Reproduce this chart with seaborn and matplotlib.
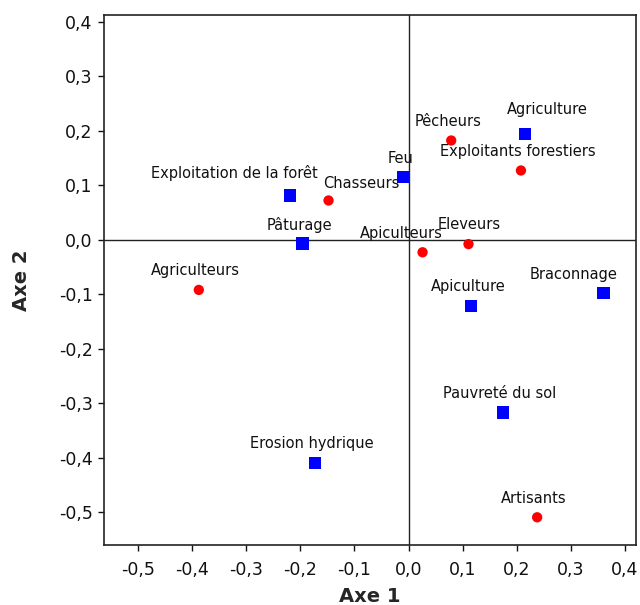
import matplotlib
matplotlib.use("Agg")
import matplotlib.pyplot as plt
import seaborn as sns
import pandas as pd

# --- data ---
labels = ["Exploitation de la forêt", "Feu", "Pâturage", "Agriculture", "Erosion hydrique",
          "Braconnage", "Apiculture", "Pauvreté du sol",
          "Chasseurs", "Pêcheurs", "Exploitants forestiers", "Eleveurs", "Apiculteurs",
          "Agriculteurs", "Artisants"]
axe1 = [-0.219, -0.010, -0.196, 0.215, -0.173, 0.361, 0.116, 0.175,
        -0.148, 0.079, 0.208, 0.111, 0.026, -0.388, 0.238]
axe2 = [0.081, 0.115, -0.007, 0.194, -0.409, -0.098, -0.121, -0.317,
        0.072, 0.182, 0.127, -0.008, -0.023, -0.092, -0.509]
groups = ["var"] * 8 + ["ind"] * 7
xticks = [-0.5, -0.4, -0.3, -0.2, -0.1, 0.0, 0.1, 0.2, 0.3, 0.4]
yticks = [0.4, 0.3, 0.2, 0.1, 0.0, -0.1, -0.2, -0.3, -0.4, -0.5]

# label offsets in pixels (layout only)
offsets = {"Exploitation de la forêt": (-56, 23), "Chasseurs": (33, 17),
           "Agriculture": (23, 24), "Apiculteurs": (-21, 19), "Eleveurs": (1, 20),
           "Braconnage": (-30, 19)}
default_off = (-3, 19)

df = pd.DataFrame({"label": labels, "Axe 1": axe1, "Axe 2": axe2, "g": groups})

sns.set_style("white")
plt.rcParams["font.family"] = ["DejaVu Sans"]

fig = plt.figure(figsize=(6.4, 6.05), dpi=100)
ax = fig.add_axes([0.162, 0.099, 0.831, 0.877])

ax.axhline(0, color="#222222", lw=1.0, zorder=1)
ax.axvline(0, color="#222222", lw=1.0, zorder=1)

sns.scatterplot(data=df, x="Axe 1", y="Axe 2", hue="g", style="g",
                palette={"var": "#0000FF", "ind": "#FF0000"},
                markers={"var": "s", "ind": "o"},
                size="g", sizes={"var": 80, "ind": 55},
                linewidth=0, legend=False, ax=ax, zorder=3)

for lab, x, y in zip(labels, axe1, axe2):
    dx, dy = offsets.get(lab, default_off)
    ax.annotate(lab, (x, y), xytext=(dx, dy), textcoords="offset pixels",
                ha="center", va="center", fontsize=10.5, color="#111111", zorder=4)

ax.set_xlim(-0.564, 0.420)
ax.set_ylim(-0.560, 0.413)
ax.set_xticks(xticks)
ax.set_yticks(yticks)
fmt = lambda v: f"{v:.1f}".replace(".", ",").replace("-0,0", "0,0")
ax.set_xticklabels([fmt(v) for v in xticks])
ax.set_yticklabels([fmt(v) for v in yticks])
ax.tick_params(axis="both", direction="out", length=4.5, width=1, labelsize=12.5,
               colors="#111111", bottom=True, left=True)
ax.tick_params(axis="x", pad=7)
ax.tick_params(axis="y", pad=3.5)
for s in ax.spines.values():
    s.set_color("#222222")
    s.set_linewidth(1.2)

ax.set_xlabel("Axe 1", fontsize=14, fontweight="bold", labelpad=6)
ax.set_ylabel("Axe 2", fontsize=14, fontweight="bold", labelpad=20)

fig.savefig("out.png", dpi=100)
